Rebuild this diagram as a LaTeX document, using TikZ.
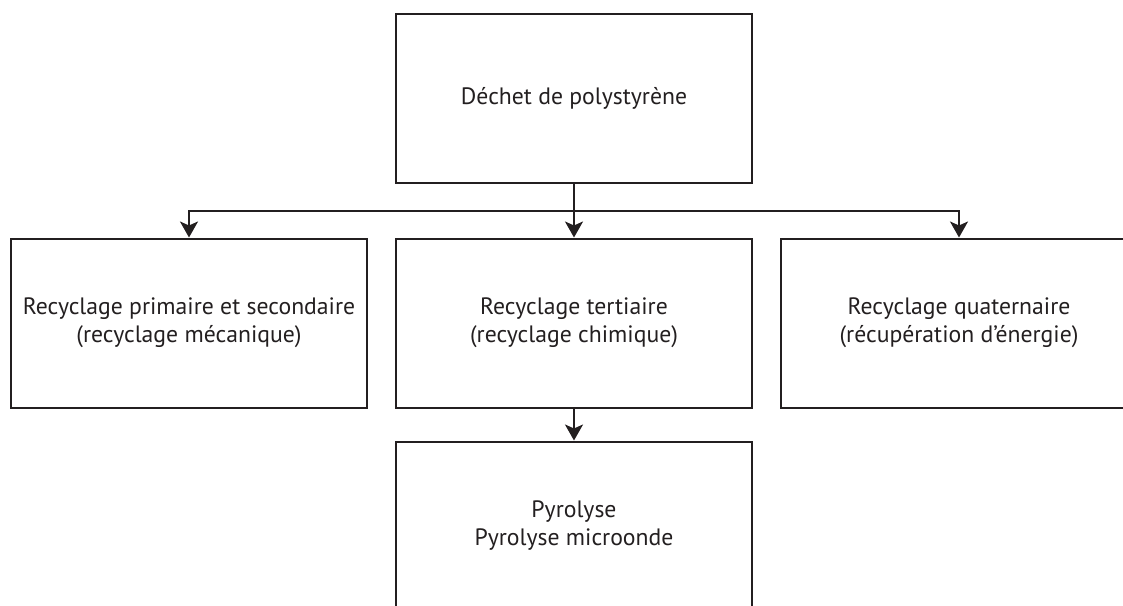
\documentclass[tikz,border=0pt]{standalone}
\usepackage{fontspec}
\setmainfont{PT Sans}
\usepackage{xcolor}
\usepackage{tikz}
\usetikzlibrary{arrows.meta}

\definecolor{inkgray}{HTML}{231F20}

\begin{document}
\begin{tikzpicture}[x=1pt, y=-1pt,
    box/.style={draw=inkgray, line width=2pt, minimum width=356pt, minimum height=169pt,
                inner sep=0pt, align=center, text=inkgray,
                font=\fontsize{23.7}{28}\selectfont},
    link/.style={draw=inkgray, line width=2pt,
                 -{Stealth[length=16pt, width=18pt, inset=4pt]}}]
             \useasboundingbox (0,0) rectangle (1123,605);
             \clip (0,0) rectangle (1123,605);

             \node[box] (waste) at (574, 98) {Déchet de polystyrène};

             \node[box] (mech) at (189, 323) {Recyclage primaire et secondaire\\(recyclage mécanique)};
             \node[box] (chem) at (574, 323) {Recyclage tertiaire\\(recyclage chimique)};
             \node[box] (energy) at (959, 323) {Recyclage quaternaire\\(récupération d’énergie)};

             \node[box] (pyro) at (574, 526) {Pyrolyse\\Pyrolyse microonde};

             \coordinate (split) at (574, 211);
             \draw[link] (waste.south) -- (chem.north);
             \draw[link] (split) -| (mech.north);
             \draw[link] (split) -| (energy.north);

             \draw[link] (chem.south) -- (pyro.north);
\end{tikzpicture}
\end{document}
